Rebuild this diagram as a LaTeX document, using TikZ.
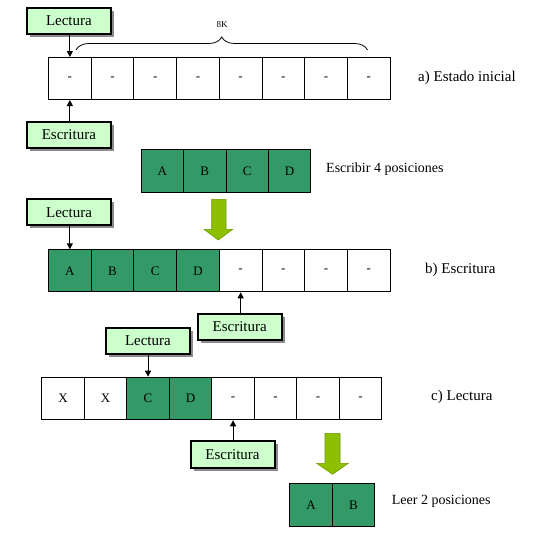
\documentclass[tikz,border=0pt]{standalone}
\usepackage{fontspec}
\setmainfont{Liberation Serif}
\usetikzlibrary{arrows.meta,shadows,decorations.pathreplacing}
\definecolor{cellgreen}{HTML}{339966}
\definecolor{lblgreen}{HTML}{CCFFCC}
\definecolor{arrgreen}{HTML}{8CC000}
\definecolor{arrline}{HTML}{6E9A00}
\tikzset{
  cell/.style={draw, line width=1pt, minimum width=42.7pt, minimum height=42pt, inner sep=0pt, anchor=north west, font=\fontsize{13}{13}\selectfont},
  gcell/.style={cell, fill=cellgreen},
  lbl/.style={draw, line width=2pt, fill=lblgreen, minimum width=84pt, minimum height=26.3pt, inner sep=0pt,
     font=\fontsize{15}{15}\selectfont,
     drop shadow={shadow xshift=3pt, shadow yshift=-3pt, fill=black!45, opacity=1}},
  ptr/.style={line width=1pt, -{Triangle[length=6pt,width=6pt]}},
  side/.style={anchor=west, inner sep=0pt, font=\fontsize{15}{15}\selectfont},
  side2/.style={anchor=west, inner sep=0pt, font=\fontsize{14}{14}\selectfont},
  bigarrow/.style={fill=arrgreen, draw=arrline, line width=0.6pt, line join=miter}
}
\begin{document}
\begin{tikzpicture}[x=1pt, y=-1pt]
\useasboundingbox (0,0) rectangle (544,549);
% Row a
\foreach \i in {1,...,8} {
  \node[cell] (a\i) at ({48+(\i-1)*42.7},57) {-};
}
\node[lbl] (La) at (68.9,20.9) {Lectura};
\node[lbl] (Ea) at (68.9,134.9) {Escritura};
\draw[ptr] (a1.north |- La.south) -- (a1.north);
\draw[ptr] (a1.south |- Ea.north) -- (a1.south);
\draw[line width=0.8pt, decorate, decoration={brace, amplitude=13pt}] (76,50) -- (367.5,50);
\node[font=\fontsize{9}{9}\selectfont, inner sep=0pt] (k8) at (222,25) {8K};
\node[side] (ta) at (418,78) {a) Estado inicial};
% Data to write
\foreach \t [count=\i] in {A,B,C,D} {
  \node[gcell, minimum width=42.4pt, minimum height=43pt] (w\i) at ({140.7+(\i-1)*42.4},149.3) {\t};
}
\node[side2] (tw) at (326,169) {Escribir 4 posiciones};
\draw[bigarrow] (211.7,199.3) -- (226,199.3) -- (226,229.3) -- (232.7,229.3) -- (218.3,240) -- (204,229.3) -- (211.7,229.3) -- cycle;
% Row b
\foreach \t [count=\i] in {A,B,C,D} {
  \node[gcell] (b\i) at ({48+(\i-1)*42.7},249.3) {\t};
}
\foreach \i in {5,...,8} {
  \node[cell] (b\i) at ({48+(\i-1)*42.7},249.3) {-};
}
\node[lbl] (Lb) at (69,212.2) {Lectura};
\node[lbl] (Eb) at (239.7,326.9) {Escritura};
\draw[ptr] (b1.north |- Lb.south) -- (b1.north);
\draw[ptr] (b5.south |- Eb.north) -- (b5.south);
\node[side] (tb) at (425,270) {b) Escritura};
% Row c
\foreach \t [count=\i] in {X,X} {
  \node[cell, minimum width=42.5pt, minimum height=42.6pt] (c\i) at ({41.3+(\i-1)*42.5},376.7) {\t};
}
\foreach \t [count=\i from 3] in {C,D} {
  \node[gcell, minimum width=42.5pt, minimum height=42.6pt] (c\i) at ({41.3+(\i-1)*42.5},376.7) {\t};
}
\foreach \i in {5,...,8} {
  \node[cell, minimum width=42.5pt, minimum height=42.6pt] (c\i) at ({41.3+(\i-1)*42.5},376.7) {-};
}
\node[lbl] (Lc) at (147.9,340.9) {Lectura};
\node[lbl] (Ec) at (232.5,454.5) {Escritura};
\draw[ptr] (c3.north |- Lc.south) -- (c3.north);
\draw[ptr] (c5.south |- Ec.north) -- (c5.south);
\node[side] (tc) at (431,397) {c) Lectura};
% Data read
\draw[bigarrow] (325,433.3) -- (340,433.3) -- (340,463.3) -- (348.3,463.3) -- (332.5,474.3) -- (316.7,463.3) -- (325,463.3) -- cycle;
\foreach \t [count=\i] in {A,B} {
  \node[gcell, minimum width=42.5pt, minimum height=42.4pt] (r\i) at ({289.3+(\i-1)*42.5},483.3) {\t};
}
\node[side2] (tr) at (391.7,501.7) {Leer 2 posiciones};
\end{tikzpicture}
\end{document}
